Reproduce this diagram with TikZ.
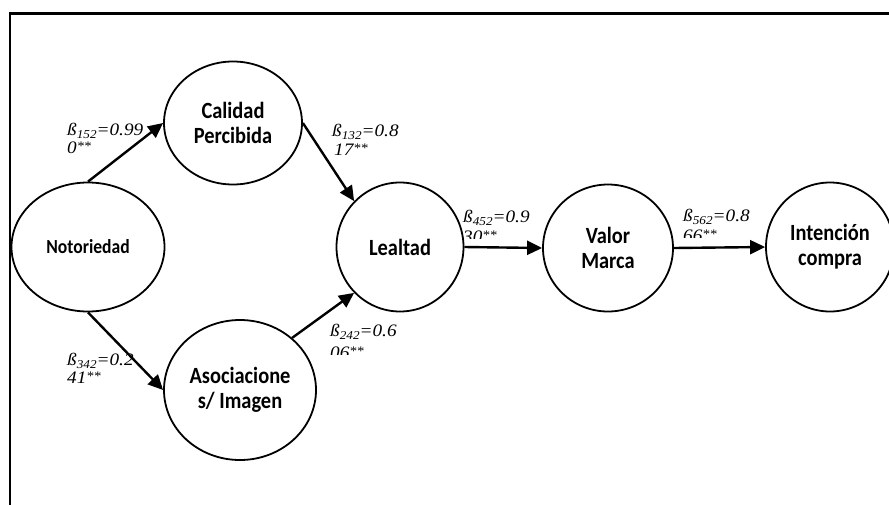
\documentclass[tikz,border=0pt]{standalone}
\usepackage{fontspec}
\setmainfont{Liberation Serif}
\newfontfamily\labfont{Carlito}
\usetikzlibrary{shapes.geometric,arrows.meta}
\newcommand\bsub[1]{\raisebox{-3pt}{\fontsize{12}{12}\selectfont #1}}
\newcommand\bstar{\raisebox{3pt}{\fontsize{13}{13}\selectfont **}}
\newcommand\tl[1]{\scalebox{0.95}[1.08]{#1}}
\newcommand\bw[1]{\scalebox{1.1}[1]{#1}}
\begin{document}
\begin{tikzpicture}[x=1pt,y=-1pt,
  var/.style={draw,ellipse,line width=1.8pt,inner sep=0pt,align=center,
    font=\labfont\bfseries\fontsize{21.5}{25}\selectfont},
  pathar/.style={line width=2.4pt,-{Triangle[length=15pt,width=14pt]}},
  coef/.style={anchor=base west,inner sep=0pt,font=\itshape\fontsize{17.5}{18}\selectfont}]
\clip (0,0) rectangle (889,504);
\draw[line width=2.2pt] (10,13.5) rectangle (905,520);

\node[var,minimum width=153pt,minimum height=129pt,
  font=\labfont\bfseries\fontsize{18.5}{22}\selectfont] (N) at (88,247) {\tl{Notoriedad}};
\node[var,minimum width=138pt,minimum height=123pt] (C) at (233,123) {\tl{Calidad}\\\tl{Percibida}};
\node[var,minimum width=152pt,minimum height=140pt] (A) at (240,390) {\tl{Asociacione}\\\tl{s/ Imagen}};
\node[var,minimum width=127pt,minimum height=129pt] (L) at (400,247) {\tl{Lealtad}};
\node[var,minimum width=130pt,minimum height=127pt] (V) at (608,248) {\tl{Valor}\\\tl{Marca}};
\node[var,minimum width=128pt,minimum height=129pt] (I) at (830,247) {\tl{Intención}\\\tl{compra}};

\node[coef] (b1) at (67,135) {\bw{ß\bsub{152}=0.99}};
\node[coef] (b1x) at (67,153) {\bw{0\bstar}};
\node[coef] (b2) at (332,136) {\bw{ß\bsub{132}=0.8}};
\node[coef] (b2x) at (334,155) {\bw{17\bstar}};
\node[coef] (b5) at (67,365) {\bw{ß\bsub{342}=0.2}};
\node[coef] (b5x) at (67,383) {\bw{41\bstar}};
\begin{scope}
  \clip (455,195) rectangle (545,238);
  \node[coef] (b3) at (463,222) {\bw{ß\bsub{452}=0.9}};
  \node[coef] (b3x) at (463,242) {\bw{30\bstar}};
\end{scope}
\begin{scope}
  \clip (675,195) rectangle (765,237);
  \node[coef] (b4) at (683,221) {\bw{ß\bsub{562}=0.8}};
  \node[coef] (b4x) at (683,241) {\bw{66\bstar}};
\end{scope}
\begin{scope}
  \clip (320,315) rectangle (405,354);
  \node[coef] (b6) at (330,336) {\bw{ß\bsub{242}=0.6}};
  \node[coef] (b6x) at (330,358) {\bw{06\bstar}};
\end{scope}

\draw[pathar] (N.north) -- (C.west);
\draw[pathar] (C.east) -- (L.135);
\draw[pathar] (N.south) -- (A.west);
\draw[pathar] (A.45) -- (L.225);
\draw[pathar] (L.east) -- (V.west);
\draw[pathar] (V.east) -- (I.west);
\end{tikzpicture}
\end{document}
